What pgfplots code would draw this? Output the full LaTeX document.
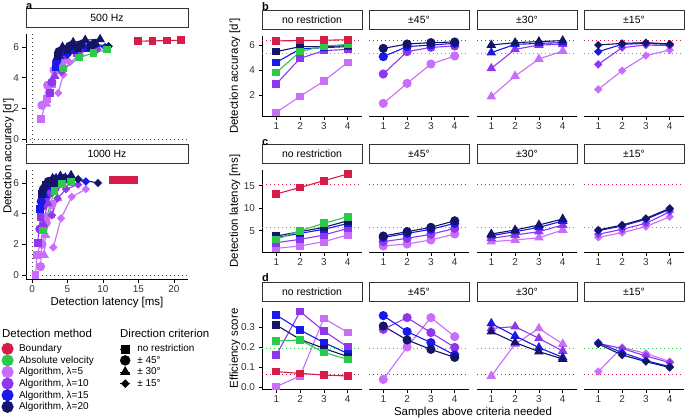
\documentclass[border=0pt]{standalone}
\usepackage{fontspec}
\setmainfont{Liberation Sans}
\usepackage{pgfplots}
\usepackage{pgfplotstable}
\pgfplotsset{compat=1.18}

\definecolor{cBnd}{RGB}{214,28,72}
\definecolor{cAbs}{RGB}{44,201,74}
\definecolor{cL5}{RGB}{200,110,250}
\definecolor{cL10}{RGB}{145,55,235}
\definecolor{cL15}{RGB}{25,25,235}
\definecolor{cL20}{RGB}{20,20,105}
\definecolor{stripc}{RGB}{51,51,51}

% ---------- panel b: detection accuracy ----------
\pgfplotstableread{
n bnd abs l5 l10 l15 l20
1 6.33 3.79 0.61 2.88 4.61 5.47
2 6.35 5.47 1.89 4.93 5.68 5.87
3 6.38 5.92 3.12 5.55 5.79 5.87
4 6.42 6.05 4.61 5.65 5.87 5.95
}\bnr
\pgfplotstableread{
n l5 l10 l15 l20
1 1.33 3.68 5.07 5.73
2 2.93 5.47 5.87 6.08
3 4.48 5.81 6.00 6.19
4 5.12 5.92 6.13 6.24
}\bff
\pgfplotstableread{
n l5 l10 l15 l20
1 1.87 4.13 5.39 6.00
2 3.52 5.65 6.05 6.19
3 4.88 6.00 6.13 6.27
4 5.52 6.05 6.19 6.35
}\bth
\pgfplotstableread{
n l5 l10 l15 l20
1 2.45 4.45 5.47 6.00
2 3.95 5.79 6.05 6.13
3 5.15 6.00 6.13 6.19
4 5.60 5.95 6.05 6.08
}\bfi
% ---------- panel c: detection latency ----------
\pgfplotstableread{
n bnd abs l5 l10 l15 l20
1 13.15 3.07 1.07 2.33 3.44 3.80
2 14.60 5.00 1.60 3.07 4.40 4.78
3 16.10 6.63 2.56 4.04 5.30 5.74
4 17.60 8.10 4.04 5.50 6.60 7.20
}\cnr
\pgfplotstableread{
n l5 l10 l15 l20
1 1.60 2.56 3.50 3.80
2 2.04 3.30 4.40 4.78
3 2.93 4.20 5.30 5.74
4 4.26 5.50 6.63 7.20
}\cff
\pgfplotstableread{
n l5 l10 l15 l20
1 2.56 3.30 3.90 4.26
2 2.93 4.04 4.78 5.15
3 3.44 4.78 5.74 6.26
4 5.15 6.26 7.15 7.60
}\cth
\pgfplotstableread{
n l5 l10 l15 l20
1 3.52 4.20 5.00 5.15
2 4.56 5.30 6.04 6.26
3 5.90 6.63 7.52 7.74
4 8.10 9.20 9.74 9.96
}\cfi
% ---------- panel d: efficiency score ----------
\pgfplotstableread{
n bnd abs l5 l10 l15 l20
1 0.077 0.230 0.002 0.160 0.360 0.310
2 0.068 0.235 0.055 0.377 0.285 0.238
3 0.060 0.173 0.343 0.280 0.222 0.193
4 0.055 0.138 0.273 0.200 0.168 0.152
}\dnr
\pgfplotstableread{
n l5 l10 l15 l20
1 0.038 0.288 0.357 0.305
2 0.200 0.347 0.277 0.235
3 0.347 0.272 0.222 0.188
4 0.252 0.198 0.160 0.148
}\dff
\pgfplotstableread{
n l5 l10 l15 l20
1 0.055 0.293 0.318 0.277
2 0.215 0.302 0.255 0.222
3 0.293 0.243 0.197 0.177
4 0.215 0.180 0.148 0.140
}\dth
\pgfplotstableread{
n l5 l10 l15 l20
1 0.077 0.218 0.222 0.215
2 0.198 0.193 0.172 0.160
3 0.168 0.155 0.132 0.127
4 0.127 0.122 0.102 0.097
}\dfi
% ---------- panel a: 500 Hz ----------
\pgfplotstableread{
x5 y5 x10 y10 x15 y15 x20 y20
1.27 1.31 2.5 3.0 3.3 4.7 3.6 5.4
2.1 2.6 3.3 4.9 4.6 5.65 5.0 5.8
2.9 3.6 4.5 5.5 6.0 5.8 6.5 5.9
3.8 4.5 6.3 5.6 7.7 5.9 8.3 6.0
}\aPnr
\pgfplotstableread{
x5 y5 x10 y10 x15 y15 x20 y20
1.4 2.2 2.8 3.7 3.5 5.1 3.8 5.7
2.2 3.5 3.7 5.4 4.9 5.85 5.3 6.05
3.1 4.5 5.0 5.75 6.4 6.0 6.9 6.15
4.3 5.1 6.8 5.85 8.3 6.1 8.8 6.2
}\aPff
\pgfplotstableread{
x5 y5 x10 y10 x15 y15 x20 y20
2.0 2.3 3.2 4.1 3.9 5.4 4.3 6.0
2.7 3.5 4.3 5.6 5.4 6.05 5.8 6.3
3.5 4.6 5.6 5.95 7.0 6.15 7.5 6.45
4.8 5.3 7.4 6.0 9.0 6.2 9.6 6.5
}\aPth
\pgfplotstableread{
x5 y5 x10 y10 x15 y15 x20 y20
3.7 3.0 4.2 4.4 5.0 5.5 5.2 6.0
4.4 4.2 5.4 5.7 6.6 6.05 6.9 6.15
5.3 5.0 6.8 5.9 8.2 6.1 8.6 6.2
6.8 5.5 9.2 5.85 10.3 6.0 10.8 6.05
}\aPfi
\pgfplotstableread{
xb yb xa ya
14.9 6.38 4.46 4.59
17.0 6.40 6.67 5.31
19.0 6.42 8.69 5.62
21.0 6.44 10.56 5.84
}\aPba
% ---------- panel a: 1000 Hz ----------
\pgfplotstableread{
x5 y5 x10 y10 x15 y15 x20 y20
0.5 0.0 0.8 2.1 1.1 4.3 1.4 5.3
0.7 1.3 1.2 3.8 1.6 5.4 2.0 5.9
1.2 2.1 1.8 4.9 2.3 5.8 2.8 6.0
1.8 3.8 2.6 5.4 3.3 6.0 3.9 6.1
}\aQnr
\pgfplotstableread{
x5 y5 x10 y10 x15 y15 x20 y20
1.2 0.55 1.1 3.0 1.3 4.8 1.6 5.6
1.4 2.0 1.6 4.5 1.9 5.8 2.3 6.1
2.0 3.4 2.3 5.3 2.7 6.1 3.2 6.25
2.8 4.6 3.3 5.7 3.8 6.2 4.5 6.3
}\aQff
\pgfplotstableread{
x5 y5 x10 y10 x15 y15 x20 y20
1.7 1.3 1.6 3.3 1.8 5.2 2.1 5.9
1.9 2.6 2.2 4.7 2.5 6.0 2.9 6.3
2.6 3.9 3.0 5.5 3.4 6.3 4.0 6.45
3.6 5.0 4.0 5.9 4.7 6.35 5.5 6.5
}\aQth
\pgfplotstableread{
x5 y5 x10 y10 x15 y15 x20 y20
3.0 1.8 2.8 3.9 3.0 5.6 3.4 5.9
4.1 3.7 3.6 5.0 4.1 6.1 4.7 6.2
5.6 5.1 4.8 5.6 5.5 6.2 6.5 6.25
7.6 5.6 6.5 5.9 7.6 6.1 9.3 6.0
}\aQfi
\pgfplotstableread{
xb yb xa ya
11.4 6.2 1.5 2.9
12.5 6.2 3.15 5.5
13.5 6.2 4.2 5.93
14.4 6.2 5.5 6.09
}\aQba

\pgfplotsset{
  base/.style={scale only axis, anchor=north west, clip=false,
    axis line style={line width=0.6bp, black, -},
    tick style={line width=0.6bp, black},
    tick align=outside, major tick length=3.5bp,
    tick label style={font=\fontsize{10}{12}\selectfont, text=black!80},
    /pgf/number format/assume math mode=true,
    every axis plot/.append style={line width=1.1bp}},
  strip/.style 2 args={title={#1}, title style={at={(0.5,1)}, anchor=south, yshift=0pt,
    draw=stripc, line width=0.8bp, fill=white, minimum width=#2, minimum height=19.5bp,
    inner sep=0pt, font=\fontsize{10.5}{12}\selectfont}},
  fac/.style={base, width=100bp, xmin=0.4, xmax=4.6, xtick={1,2,3,4}, axis x line*=bottom},
  sq/.style={mark=square*, mark size=3.3bp},
  ci/.style={mark=*, mark size=4bp},
  tr/.style={mark=triangle*, mark size=4.5bp},
  di/.style={mark=square*, mark size=2.4bp, mark options={rotate=45}},
  refline/.style={line width=0.8bp, dash pattern=on 1bp off 3bp, forget plot},
  rowb/.style={height=80bp, ymin=0.32, ymax=6.72, ytick={2,4,6}},
  rowc/.style={height=82bp, ymin=0.26, ymax=18.48, ytick={5,10,15}},
  rowd/.style={height=81bp, ymin=-0.01, ymax=0.395, ytick={0,0.1,0.2,0.3}, yticklabels={0.0,0.1,0.2,0.3}},
}

\newcommand{\lams}[2]{%
  \addplot[cL5,#2] table[x=n,y=l5]{#1};
  \addplot[cL10,#2] table[x=n,y=l10]{#1};
  \addplot[cL15,#2] table[x=n,y=l15]{#1};
  \addplot[cL20,#2] table[x=n,y=l20]{#1};}
\newcommand{\refl}[2]{%
  \addplot[cBnd,refline] coordinates {(0.4,#1) (4.6,#1)};
  \addplot[cAbs,refline] coordinates {(0.4,#2) (4.6,#2)};}
\newcommand{\alam}[7]{%
  \addplot[#1,sq] table[x=#2,y=#3]{#4};
  \addplot[#1,ci] table[x=#2,y=#3]{#5};
  \addplot[#1,tr] table[x=#2,y=#3]{#6};
  \addplot[#1,di] table[x=#2,y=#3]{#7};}
% #1 row style, #2 top, #3-#6 tables, #7 red ref, #8 green ref
\newcommand{\facetrow}[8]{%
  \begin{axis}[fac, #1, at={(262bp,-#2bp)}, axis y line*=left, strip={no restriction}{100bp}]
    \refl{#7}{#8}
    \lams{#3}{sq}
    \addplot[cAbs,sq] table[x=n,y=abs]{#3};
    \addplot[cBnd,sq] table[x=n,y=bnd]{#3};
  \end{axis}
  \begin{axis}[fac, #1, at={(369bp,-#2bp)}, axis y line=none, ytick=\empty, strip={±45°}{100bp}]
    \refl{#7}{#8}
    \lams{#4}{ci}
  \end{axis}
  \begin{axis}[fac, #1, at={(477bp,-#2bp)}, axis y line=none, ytick=\empty, strip={±30°}{100bp}]
    \refl{#7}{#8}
    \lams{#5}{tr}
  \end{axis}
  \begin{axis}[fac, #1, at={(584bp,-#2bp)}, axis y line=none, ytick=\empty, strip={±15°}{100bp}]
    \refl{#7}{#8}
    \lams{#6}{di}
  \end{axis}}

\begin{document}
\begin{tikzpicture}
\useasboundingbox (0,0) rectangle (685bp,-420bp);

% ---------------- panel a ----------------
\begin{axis}[base, width=162bp, height=109bp, at={(26bp,-34bp)},
  xmin=-0.85, xmax=22, ymin=-0.26, ymax=6.85,
  axis y line*=left, axis x line=none, xtick=\empty, ytick={0,2,4,6},
  strip={500 Hz}{162bp}]
  \addplot[black!70,refline] coordinates {(0,-0.26) (0,6.85)};
  \addplot[black!70,refline] coordinates {(-0.85,0) (22,0)};
  \alam{cL5}{x5}{y5}{\aPnr}{\aPff}{\aPth}{\aPfi}
  \alam{cL10}{x10}{y10}{\aPnr}{\aPff}{\aPth}{\aPfi}
  \alam{cL15}{x15}{y15}{\aPnr}{\aPff}{\aPth}{\aPfi}
  \alam{cL20}{x20}{y20}{\aPnr}{\aPff}{\aPth}{\aPfi}
  \addplot[cAbs,sq] table[x=xa,y=ya]{\aPba};
  \addplot[cBnd,sq] table[x=xb,y=yb]{\aPba};
\end{axis}
\begin{axis}[base, width=162bp, height=109bp, at={(26bp,-170bp)},
  xmin=-0.85, xmax=22, ymin=-0.26, ymax=6.85,
  axis y line*=left, axis x line*=bottom, xtick={0,5,10,15,20}, ytick={0,2,4,6},
  strip={1000 Hz}{162bp}]
  \addplot[black!70,refline] coordinates {(0,-0.26) (0,6.85)};
  \addplot[black!70,refline] coordinates {(-0.85,0) (22,0)};
  \alam{cL5}{x5}{y5}{\aQnr}{\aQff}{\aQth}{\aQfi}
  \alam{cL10}{x10}{y10}{\aQnr}{\aQff}{\aQth}{\aQfi}
  \alam{cL15}{x15}{y15}{\aQnr}{\aQff}{\aQth}{\aQfi}
  \alam{cL20}{x20}{y20}{\aQnr}{\aQff}{\aQth}{\aQfi}
  \addplot[cAbs,sq] table[x=xa,y=ya]{\aQba};
  \addplot[cBnd,sq] table[x=xb,y=yb]{\aQba};
\end{axis}

% ---------------- panels b, c, d ----------------
\facetrow{rowb}{36}{\bnr}{\bff}{\bth}{\bfi}{6.37}{5.33}
\facetrow{rowc}{170}{\cnr}{\cff}{\cth}{\cfi}{15.37}{5.74}
\facetrow{rowd}{308}{\dnr}{\dff}{\dth}{\dfi}{0.063}{0.193}

% ---------------- legends ----------------
\begin{axis}[hide axis, scale only axis, width=1bp, height=1bp, at={(1.5bp,-343bp)}, anchor=north west,
  xmin=0, xmax=1, ymin=0, ymax=1,
  legend style={at={(0,1)}, anchor=north west, draw=none, fill=none, inner sep=0pt, outer sep=0pt,
    font=\fontsize{10}{12}\selectfont, row sep=0pt, column sep=5.5bp,
    nodes={inner sep=0pt, minimum height=11.6bp}},
  legend cell align=left,
  legend image code/.code={\draw[mark repeat=2, mark phase=2, #1] plot coordinates {(-5.5bp,0bp) (0bp,0bp) (5.5bp,0bp)};}]
  \addlegendimage{cBnd, mark=*, mark size=5.5bp, line width=1.1bp}
  \addlegendentry{Boundary}
  \addlegendimage{cAbs, mark=*, mark size=5.5bp, line width=1.1bp}
  \addlegendentry{Absolute velocity}
  \addlegendimage{cL5, mark=*, mark size=5.5bp, line width=1.1bp}
  \addlegendentry{Algorithm, λ=5}
  \addlegendimage{cL10, mark=*, mark size=5.5bp, line width=1.1bp}
  \addlegendentry{Algorithm, λ=10}
  \addlegendimage{cL15, mark=*, mark size=5.5bp, line width=1.1bp}
  \addlegendentry{Algorithm, λ=15}
  \addlegendimage{cL20, mark=*, mark size=5.5bp, line width=1.1bp}
  \addlegendentry{Algorithm, λ=20}
\end{axis}
\begin{axis}[hide axis, scale only axis, width=1bp, height=1bp, at={(120bp,-343bp)}, anchor=north west,
  xmin=0, xmax=1, ymin=0, ymax=1,
  legend style={at={(0,1)}, anchor=north west, draw=none, fill=none, inner sep=0pt, outer sep=0pt,
    font=\fontsize{10}{12}\selectfont, row sep=0pt, column sep=7bp,
    nodes={inner sep=0pt, minimum height=11.6bp}},
  legend cell align=left,
  legend image code/.code={\path (-5bp,0bp) -- (5bp,0bp); \draw[#1] plot coordinates {(0bp,0bp)};}]
  \addlegendimage{black, only marks, mark=square*, mark size=4bp}
  \addlegendentry{no restriction}
  \addlegendimage{black, only marks, mark=*, mark size=5bp}
  \addlegendentry{± 45°}
  \addlegendimage{black, only marks, mark=triangle*, mark size=5.5bp}
  \addlegendentry{± 30°}
  \addlegendimage{black, only marks, mark=square*, mark size=2.8bp, mark options={rotate=45}}
  \addlegendentry{± 15°}
\end{axis}

% ---------------- texts ----------------
\node[anchor=west, inner sep=0pt, font=\fontsize{11.5}{13}\selectfont] at (2bp,-333bp) {Detection method};
\node[anchor=west, inner sep=0pt, font=\fontsize{11.5}{13}\selectfont] at (120bp,-333bp) {Direction criterion};

\node[anchor=base west, inner sep=0pt, font=\bfseries\fontsize{11}{13}\selectfont] at (26bp,-9bp) {a};
\node[anchor=base west, inner sep=0pt, font=\bfseries\fontsize{11}{13}\selectfont] at (262bp,-10bp) {b};
\node[anchor=base west, inner sep=0pt, font=\bfseries\fontsize{11}{13}\selectfont] at (262bp,-145bp) {c};
\node[anchor=base west, inner sep=0pt, font=\bfseries\fontsize{11}{13}\selectfont] at (262bp,-281bp) {d};

\node[rotate=90, inner sep=0pt, font=\fontsize{11.5}{13}\selectfont] at (8.5bp,-156bp) {Detection accuracy [d']};
\node[rotate=90, inner sep=0pt, font=\fontsize{11.5}{13}\selectfont] at (235bp,-76bp) {Detection accuracy [d']};
\node[rotate=90, inner sep=0pt, font=\fontsize{11.5}{13}\selectfont] at (235bp,-211bp) {Detection latency [ms]};
\node[rotate=90, inner sep=0pt, font=\fontsize{11.5}{13}\selectfont] at (235bp,-348.5bp) {Efficiency score};
\node[inner sep=0pt, font=\fontsize{11.5}{13}\selectfont] at (107bp,-303bp) {Detection latency [ms]};
\node[inner sep=0pt, font=\fontsize{11.5}{13}\selectfont] at (473bp,-413bp) {Samples above criteria needed};
\end{tikzpicture}
\end{document}
